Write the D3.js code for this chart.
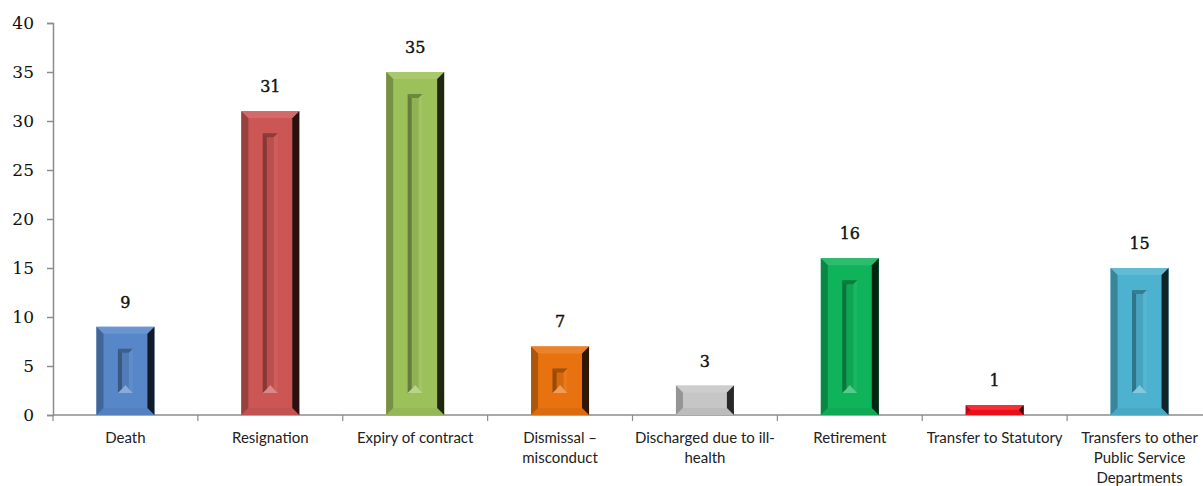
<!DOCTYPE html>
<html>
<head>
<meta charset="utf-8">
<script src="https://cdn.jsdelivr.net/npm/d3@7"></script>
<style>
  html, body { margin: 0; padding: 0; background: #fff; }
  svg { display: block; }
</style>
</head>
<body>
<svg id="chart" width="1203" height="486"></svg>
<script>
// Terminations by reason
const categories = [
  "Death",
  "Resignation",
  "Expiry of contract",
  "Dismissal \u2013 misconduct",
  "Discharged due to ill-health",
  "Retirement",
  "Transfer to Statutory",
  "Transfers to other Public Service Departments"
];
const categoryLines = [
  ["Death"],
  ["Resignation"],
  ["Expiry of contract"],
  ["Dismissal \u2013", "misconduct"],
  ["Discharged due to ill-", "health"],
  ["Retirement"],
  ["Transfer to Statutory"],
  ["Transfers to other", "Public Service", "Departments"]
];
const values = [9, 31, 35, 7, 3, 16, 1, 15];
const barColors = ["#5787c8", "#cb5654", "#9dc15a", "#e8720f", "#c6c6c6", "#0fb35a", "#f5101a", "#4cb2cf"];
const yTicks = [0, 5, 10, 15, 20, 25, 30, 35, 40];

const svg = d3.select("#chart");
const plotLeft = 53, plotRight = 1212, plotTop = 23, plotBottom = 415;

const x = d3.scaleBand().domain(categories).range([plotLeft, plotRight]).padding(0);
const y = d3.scaleLinear().domain([0, 40]).range([plotBottom, plotTop]);
const barW = x.bandwidth() * 0.4;

const lighter = (c, t) => d3.interpolateRgb(c, "#ffffff")(t);
const darker = (c, t) => d3.interpolateRgb(c, "#000000")(t);
const pts = arr => arr.map(p => p.join(",")).join(" ");

// Y axis
const yAxis = d3.axisLeft(y).tickValues(yTicks).tickSize(6).tickPadding(13);
const gy = svg.append("g").attr("transform", `translate(${plotLeft},0)`).call(yAxis);
gy.select(".domain").attr("stroke", "#8c8c8c").attr("stroke-width", 1.5);
gy.selectAll(".tick line").attr("stroke", "#8c8c8c").attr("stroke-width", 1.5);
gy.selectAll(".tick text")
  .attr("font-family", "'DejaVu Serif', serif")
  .attr("font-size", 17)
  .attr("fill", "#111");

// X axis baseline with separators between categories
const gx = svg.append("g");
gx.append("line")
  .attr("x1", plotLeft).attr("x2", plotRight)
  .attr("y1", plotBottom).attr("y2", plotBottom)
  .attr("stroke", "#8c8c8c").attr("stroke-width", 1.5);
gx.selectAll("line.sep")
  .data(categories)
  .join("line")
  .attr("class", "sep")
  .attr("x1", d => x(d)).attr("x2", d => x(d))
  .attr("y1", plotBottom).attr("y2", plotBottom + 6)
  .attr("stroke", "#8c8c8c").attr("stroke-width", 1.2);

// Category labels
const labels = svg.append("g")
  .attr("font-family", "Lato, 'Open Sans', sans-serif")
  .attr("font-size", 15)
  .attr("fill", "#222")
  .attr("text-anchor", "middle");
categories.forEach((c, i) => {
  const t = labels.append("text")
    .attr("x", x(c) + x.bandwidth() / 2)
    .attr("y", 443);
  categoryLines[i].forEach((ln, j) => {
    t.append("tspan")
      .attr("x", x(c) + x.bandwidth() / 2)
      .attr("dy", j === 0 ? 0 : 20)
      .text(ln);
  });
});

// Bevelled bars
const bars = svg.append("g");
categories.forEach((c, i) => {
  const v = values[i];
  const col = barColors[i];
  const x0 = x(c) + (x.bandwidth() - barW) / 2;
  const x1 = x0 + barW;
  const y0 = y(v);
  const y1 = y(0);
  const h = y1 - y0;
  const b = Math.min(7, h / 2);
  const g = bars.append("g");

  g.append("rect").attr("x", x0).attr("y", y0).attr("width", barW).attr("height", h).attr("fill", col);
  // top bevel
  g.append("polygon").attr("points", pts([[x0, y0], [x1, y0], [x1 - b, y0 + b], [x0 + b, y0 + b]]))
    .attr("fill", lighter(col, 0.12));
  // bottom bevel
  g.append("polygon").attr("points", pts([[x0, y1], [x1, y1], [x1 - b, y1 - b], [x0 + b, y1 - b]]))
    .attr("fill", darker(col, 0.05));
  // left bevel
  g.append("polygon").attr("points", pts([[x0, y0], [x0 + b, y0 + b], [x0 + b, y1 - b], [x0, y1]]))
    .attr("fill", darker(col, 0.25));
  // right bevel
  g.append("polygon").attr("points", pts([[x1, y0], [x1 - b, y0 + b], [x1 - b, y1 - b], [x1, y1]]))
    .attr("fill", darker(col, 0.8));

  // recessed inner slot
  const inset = 22;
  const sh = h - 2 * inset;
  if (sh > 4) {
    const sw = 15, sb = Math.min(4, sh / 3);
    const sx0 = x0 + (barW - sw) / 2, sx1 = sx0 + sw;
    const sy0 = y0 + inset, sy1 = y1 - inset;
    const cx = (sx0 + sx1) / 2;
    g.append("rect").attr("x", sx0).attr("y", sy0).attr("width", sw).attr("height", sh)
      .attr("fill", darker(col, 0.08));
    g.append("polygon").attr("points", pts([[sx0, sy0], [sx0 + sb, sy0 + sb], [sx0 + sb, sy1 - sb], [sx0, sy1]]))
      .attr("fill", darker(col, 0.35));
    g.append("polygon").attr("points", pts([[sx0, sy0], [sx1, sy0], [sx1 - sb, sy0 + sb], [sx0 + sb, sy0 + sb]]))
      .attr("fill", darker(col, 0.3));
    g.append("polygon").attr("points", pts([[sx1, sy0], [sx1 - sb, sy0 + sb], [sx1 - sb, sy1 - sb], [sx1, sy1]]))
      .attr("fill", lighter(col, 0.05));
    g.append("polygon").attr("points", pts([[sx0, sy1], [sx1, sy1], [sx1 - sb, sy1 - sb], [cx, sy1 - 2 * sb], [sx0 + sb, sy1 - sb]]))
      .attr("fill", lighter(col, 0.3));
  }
});

// Value labels
svg.append("g")
  .attr("font-family", "'DejaVu Serif', serif")
  .attr("font-size", 16)
  .attr("fill", "#111")
  .attr("stroke", "#111")
  .attr("stroke-width", 0.4)
  .attr("text-anchor", "middle")
  .selectAll("text")
  .data(categories)
  .join("text")
  .attr("x", d => x(d) + x.bandwidth() / 2)
  .attr("y", (d, i) => y(values[i]) - 19)
  .text((d, i) => values[i]);
</script>
</body>
</html>
